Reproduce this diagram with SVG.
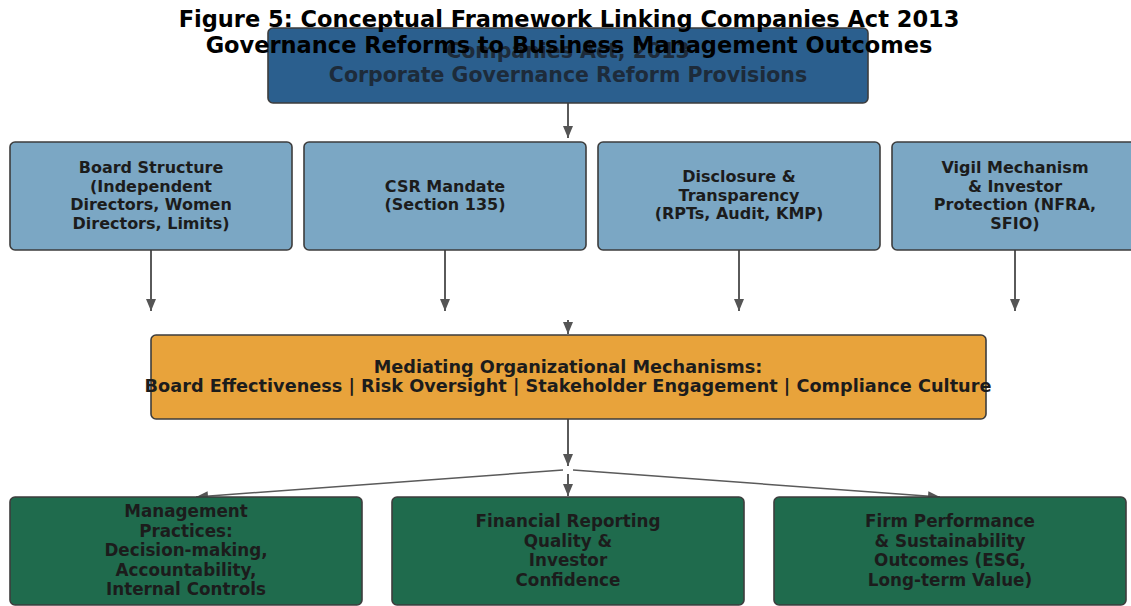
<svg xmlns="http://www.w3.org/2000/svg" width="1131" height="606" viewBox="0 0 1131 606">
  <defs>
    <style>
      .box { stroke: #3d3d3d; stroke-width: 1.6; }
      .top { fill: #2b5f8e; }
      .prov { fill: #7ba7c4; }
      .med { fill: #e8a33b; }
      .out { fill: #1f6b4d; }
      .lbl { font-family: "DejaVu Sans", "Liberation Sans", sans-serif; font-weight: bold; font-size: 16px; fill: #1c1c1c; text-anchor: middle; }
      .medlbl { font-size: 17.7px; }
      .outlbl { font-size: 16.8px; }
      .toplbl { font-family: "DejaVu Sans", "Liberation Sans", sans-serif; font-weight: bold; font-size: 20.5px; fill: #1d2b3a; text-anchor: middle; }
      .title { font-family: "DejaVu Sans", "Liberation Sans", sans-serif; font-weight: bold; font-size: 22.5px; fill: #000; text-anchor: middle; }
      .conn { stroke: #5a5a5a; stroke-width: 2; fill: none; }
      .thin { stroke: #5a5a5a; stroke-width: 1.5; fill: none; }
    </style>
    <marker id="head" viewBox="0 0 12 10" refX="12" refY="5" markerWidth="12" markerHeight="10" markerUnits="userSpaceOnUse" orient="auto">
      <path d="M0,0 L12,5 L0,10 z" fill="#555"/>
    </marker>
  </defs>

  <!-- connectors -->
  <g id="connectors">
    <line class="conn" x1="568" y1="103" x2="568" y2="138" marker-end="url(#head)"/>
    <line class="conn" x1="151" y1="250" x2="151" y2="311" marker-end="url(#head)"/>
    <line class="conn" x1="445" y1="250" x2="445" y2="311" marker-end="url(#head)"/>
    <line class="conn" x1="739" y1="250" x2="739" y2="311" marker-end="url(#head)"/>
    <line class="conn" x1="1015" y1="250" x2="1015" y2="311" marker-end="url(#head)"/>
    <line class="conn" x1="568" y1="320" x2="568" y2="334" marker-end="url(#head)"/>
    <line class="conn" x1="568" y1="419" x2="568" y2="466" marker-end="url(#head)"/>
    <line class="conn" x1="568" y1="474" x2="568" y2="496" marker-end="url(#head)"/>
    <line class="thin" x1="563" y1="470" x2="196" y2="497" marker-end="url(#head)"/>
    <line class="thin" x1="573" y1="470" x2="940" y2="497" marker-end="url(#head)"/>
  </g>

  <!-- source provisions -->
  <g id="node-act">
    <rect class="box top" x="268" y="28" width="600" height="75" rx="5"/>
    <text class="toplbl" x="568" y="58">Companies Act, 2013</text>
    <text class="toplbl" x="568" y="82">Corporate Governance Reform Provisions</text>
  </g>

  <g id="node-board">
    <rect class="box prov" x="10" y="142" width="282" height="108" rx="5"/>
    <text class="lbl" x="151" y="173">Board Structure</text>
    <text class="lbl" x="151" y="191.5">(Independent</text>
    <text class="lbl" x="151" y="210">Directors, Women</text>
    <text class="lbl" x="151" y="228.5">Directors, Limits)</text>
  </g>

  <g id="node-csr">
    <rect class="box prov" x="304" y="142" width="282" height="108" rx="5"/>
    <text class="lbl" x="445" y="191.5">CSR Mandate</text>
    <text class="lbl" x="445" y="210">(Section 135)</text>
  </g>

  <g id="node-disclosure">
    <rect class="box prov" x="598" y="142" width="282" height="108" rx="5"/>
    <text class="lbl" x="739" y="182">Disclosure &amp;</text>
    <text class="lbl" x="739" y="200.5">Transparency</text>
    <text class="lbl" x="739" y="219">(RPTs, Audit, KMP)</text>
  </g>

  <g id="node-vigil">
    <rect class="box prov" x="892" y="142" width="282" height="108" rx="5"/>
    <text class="lbl" x="1015" y="173">Vigil Mechanism</text>
    <text class="lbl" x="1015" y="191.5">&amp; Investor</text>
    <text class="lbl" x="1015" y="210">Protection (NFRA,</text>
    <text class="lbl" x="1015" y="228.5">SFIO)</text>
  </g>

  <!-- mediating layer -->
  <g id="node-mediating">
    <rect class="box med" x="151" y="335" width="835" height="84" rx="5"/>
    <text class="lbl medlbl" x="568" y="372.5">Mediating Organizational Mechanisms:</text>
    <text class="lbl medlbl" x="568" y="392">Board Effectiveness | Risk Oversight | Stakeholder Engagement | Compliance Culture</text>
  </g>

  <!-- outcomes -->
  <g id="node-management">
    <rect class="box out" x="10" y="497" width="352" height="108" rx="5"/>
    <text class="lbl outlbl" x="186" y="517">Management</text>
    <text class="lbl outlbl" x="186" y="536.5">Practices:</text>
    <text class="lbl outlbl" x="186" y="556">Decision-making,</text>
    <text class="lbl outlbl" x="186" y="575.5">Accountability,</text>
    <text class="lbl outlbl" x="186" y="595">Internal Controls</text>
  </g>

  <g id="node-reporting">
    <rect class="box out" x="392" y="497" width="352" height="108" rx="5"/>
    <text class="lbl outlbl" x="568" y="527">Financial Reporting</text>
    <text class="lbl outlbl" x="568" y="546.5">Quality &amp;</text>
    <text class="lbl outlbl" x="568" y="566">Investor</text>
    <text class="lbl outlbl" x="568" y="585.5">Confidence</text>
  </g>

  <g id="node-performance">
    <rect class="box out" x="774" y="497" width="352" height="108" rx="5"/>
    <text class="lbl outlbl" x="950" y="527">Firm Performance</text>
    <text class="lbl outlbl" x="950" y="546.5">&amp; Sustainability</text>
    <text class="lbl outlbl" x="950" y="566">Outcomes (ESG,</text>
    <text class="lbl outlbl" x="950" y="585.5">Long-term Value)</text>
  </g>

  <!-- heading, painted last so it sits over the top box -->
  <g id="title">
    <text class="title" x="569" y="27">Figure 5: Conceptual Framework Linking Companies Act 2013</text>
    <text class="title" x="569" y="53">Governance Reforms to Business Management Outcomes</text>
  </g>
</svg>
